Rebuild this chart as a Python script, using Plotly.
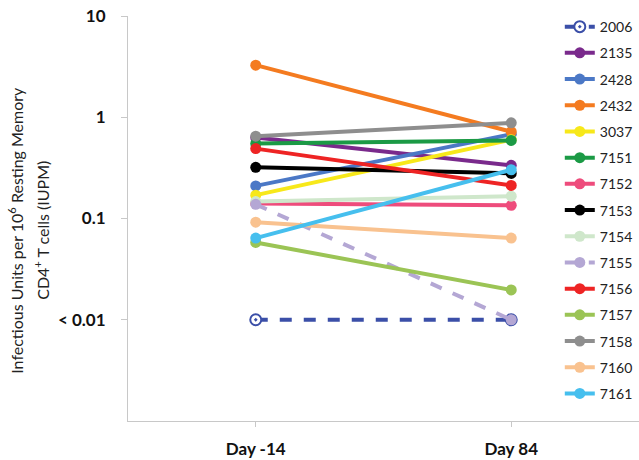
import plotly.graph_objects as go

days = ["Day -14", "Day 84"]
patients = ["2006", "2135", "2428", "2432", "3037", "7151", "7152", "7153",
            "7154", "7155", "7156", "7157", "7158", "7160", "7161"]
day_m14 = [0.01, 0.63, 0.21, 3.27, 0.17, 0.55, 0.141, 0.32,
           0.147, 0.138, 0.49, 0.058, 0.65, 0.092, 0.064]
day_84 = [0.01, 0.335, 0.68, 0.72, 0.60, 0.59, 0.135, 0.279,
          0.166, 0.01, 0.212, 0.0197, 0.88, 0.064, 0.303]
colors = ["#3B4FA8", "#7A2A8C", "#4B78C6", "#F47B20", "#F7E81A", "#1B9A45",
          "#EE4C7C", "#000000", "#CFE7CB", "#B4A7D4", "#EE2424", "#9BC455",
          "#8E8E8E", "#F9C28F", "#46BFEE"]
dashed = ["2006", "7155"]
open_markers = ["2006"]

ytick_vals = [10, 1, 0.1, 0.01]
ytick_text = ["10", "1", "0.1", "< 0.01"]

fig = go.Figure()
for i, p in enumerate(patients):
    c = colors[i]
    if p in open_markers:
        marker = dict(size=11, color="white", symbol="circle-dot",
                      line=dict(color=c, width=2))
    else:
        marker = dict(size=11, color=c, line=dict(width=0))
    fig.add_trace(go.Scatter(
        x=days, y=[day_m14[i], day_84[i]], name=p, mode="lines+markers",
        line=dict(color=c, width=4, dash="dash" if p in dashed else "solid"),
        marker=marker, legendgroup=p,
    ))

fig.update_layout(
    width=639, height=460,
    margin=dict(l=128, r=0, t=16, b=39, autoexpand=False),
    paper_bgcolor="white", plot_bgcolor="white",
    font=dict(family="Lato, Noto Sans, sans-serif", color="#222222"),
    showlegend=True,
    legend=dict(x=0.845, xanchor="left", yref="container", y=0.976,
                yanchor="top", maxheight=455,
                font=dict(size=14, color="#222222"),
                tracegroupgap=5, itemwidth=30,
                bgcolor="rgba(255,255,255,0)"),
    xaxis=dict(range=[-0.5, 1.5], showgrid=False, zeroline=False,
               showline=True, linecolor="#C8C8C8", linewidth=1,
               ticks="outside", ticklen=5, tickcolor="#C8C8C8",
               tickfont=dict(size=17, weight="bold", color="#111111"),
               ticklabelstandoff=8, automargin=False),
    yaxis=dict(type="log", range=[-3, 1], showgrid=False, zeroline=False,
               showline=True, linecolor="#C8C8C8", linewidth=1,
               tickvals=ytick_vals, ticktext=ytick_text,
               ticks="outside", ticklen=6, tickcolor="#C8C8C8",
               tickfont=dict(size=17, weight="bold", color="#111111"),
               ticklabelstandoff=12, automargin=False),
)

fig.add_annotation(text="Infectious Units per 10<sup>6</sup> Resting Memory",
                   xref="paper", yref="paper", x=-0.219, y=0.47,
                   xanchor="center", yanchor="middle", textangle=-90,
                   showarrow=False, font=dict(size=16, color="#222222"))
fig.add_annotation(text="CD4<sup>+</sup> T cells (IUPM)",
                   xref="paper", yref="paper", x=-0.168, y=0.47,
                   xanchor="center", yanchor="middle", textangle=-90,
                   showarrow=False, font=dict(size=16, color="#222222"))

fig.write_html("out.html",
               config={"displayModeBar": False},
               post_script="document.body.style.margin='0';"
                           "document.body.style.overflow='hidden';")
